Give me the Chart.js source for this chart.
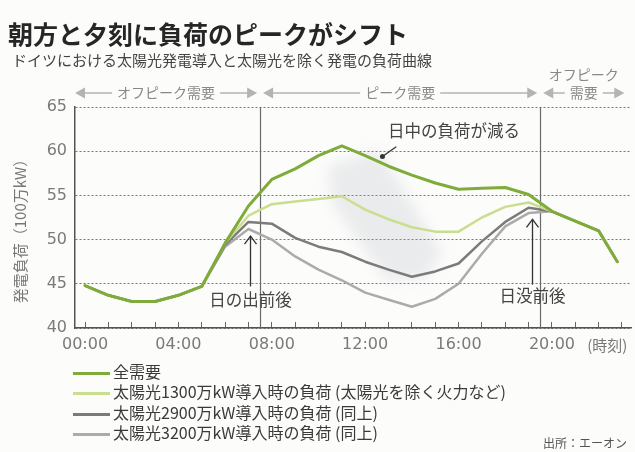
<!DOCTYPE html>
<html lang="ja">
<head>
<meta charset="utf-8">
<title>朝方と夕刻に負荷のピークがシフト</title>
<script src="https://cdn.jsdelivr.net/npm/chart.js@4.4.1/dist/chart.umd.min.js"></script>
<style>
  html, body { margin: 0; padding: 0; background: #fcfcfb; }
  #page { position: relative; width: 635px; height: 452px; overflow: hidden; font-family: "Noto Sans CJK JP", sans-serif; }
  #box { position: absolute; left: 0; top: 0; width: 635px; height: 452px; }
  h1 { position: absolute; left: 8px; top: 18px; margin: 0; font-size: 25px; line-height: 30px; font-weight: bold; color: #262626; }
  .sub { position: absolute; left: 12px; top: 51px; font-size: 15px; line-height: 18px; color: #444; }
  .legend { position: absolute; left: 73px; top: 361px; font-size: 16px; color: #3a3a3a; }
  .legend div { height: 20.3px; line-height: 20px; white-space: nowrap; }
  .legend i { display: inline-block; width: 37px; height: 3px; vertical-align: middle; margin-right: 3px; }
  .src { position: absolute; right: 8px; top: 434px; font-size: 12px; color: #555; }
</style>
</head>
<body>
<div id="page">
  <div id="box"><canvas id="loadChart"></canvas></div>
  <h1>朝方と夕刻に負荷のピークがシフト</h1>
  <div class="sub">ドイツにおける太陽光発電導入と太陽光を除く発電の負荷曲線</div>
  <div class="legend" id="legend"></div>
  <div class="src">出所：エーオン</div>
</div>
<script>
'use strict';

// hours of the day (last point just before 23:00)
const hours = [0, 1, 2, 3, 4, 5, 6, 7, 8, 9, 10, 11, 12, 13, 14, 15, 16, 17, 18, 19, 20, 21, 22, 22.8];

// load, 100万kW
const totalDemand = [44.8, 43.7, 43.0, 43.0, 43.7, 44.7, 49.6, 53.8, 56.8, 58.0, 59.5, 60.6, 59.5, 58.3, 57.3, 56.4, 55.7, 55.8, 55.9, 55.1, 53.2, 52.1, 51.0, 47.5];
const solar1300   = [44.8, 43.7, 43.0, 43.0, 43.7, 44.7, 49.6, 52.7, 54.0, 54.3, 54.6, 54.9, 53.4, 52.3, 51.4, 50.9, 50.9, 52.5, 53.7, 54.2, 53.2, 52.1, 51.0, 47.5];
const solar2900   = [44.8, 43.7, 43.0, 43.0, 43.7, 44.7, 49.4, 52.0, 51.8, 50.2, 49.2, 48.6, 47.5, 46.6, 45.8, 46.4, 47.3, 49.8, 52.0, 53.6, 53.2, 52.1, 51.0, 47.5];
const solar3200   = [44.8, 43.7, 43.0, 43.0, 43.7, 44.7, 49.2, 51.2, 50.0, 48.1, 46.6, 45.4, 44.0, 43.2, 42.4, 43.3, 45.0, 48.4, 51.5, 53.0, 53.2, 52.1, 51.0, 47.5];

const seriesNames = [
  '全需要',
  '太陽光1300万kW導入時の負荷 (太陽光を除く火力など)',
  '太陽光2900万kW導入時の負荷 (同上)',
  '太陽光3200万kW導入時の負荷 (同上)'
];
const seriesColors = ['#7fab3a', '#c9de8e', '#7b7b7b', '#ababab'];

const hourTicks = [0, 1, 2, 3, 4, 5, 6, 7, 8, 9, 10, 11, 12, 13, 14, 15, 16, 17, 18, 19, 20, 21, 22, 23];
const labelHours = [0, 4, 8, 12, 16, 20];
const yTicks = [40, 45, 50, 55, 60, 65];

// off-peak / peak borders
const periodBounds = [7.5, 19.5];
const periodNames = ['オフピーク需要', 'ピーク需要', '需要'];

// soft shaded patch "日中の負荷が減る" (hour, load)
const shadeHours = [10.4, 12.6, 15.3, 14.6, 12.9, 10.6];
const shadeLoads = [58.3, 60.2, 48.5, 45.6, 45.4, 54.0];

// arrow notes: hour, arrow tip, arrow tail, label load
const sunNames = ['日の出前後', '日没前後'];
const sunHours = [7.05, 19.15];
const sunTips = [50.4, 52.3];
const sunTails = [44.7, 44.9];
const sunLabels = [43.2, 43.6];

const dayNote = '日中の負荷が減る';
const dayNoteAt = [15.8, 62.3];
const dayPointer = [13.33, 60.5, 12.74, 59.4];

const JP = '"Noto Sans CJK JP", sans-serif';

function pts(vals){ return vals.map((v, i) => ({ x: hours[i], y: v })); }

// legend (html)
(function(){
  const el = document.getElementById('legend');
  seriesNames.forEach((n, i) => {
    const row = document.createElement('div');
    row.innerHTML = `<i style="background:${seriesColors[i]}"></i>${n}`;
    el.appendChild(row);
  });
})();

const decor = {
  id: 'decor',
  beforeDatasetsDraw(chart){
    const { ctx, chartArea: a, scales: { x, y } } = chart;
    ctx.save();
    ctx.filter = 'blur(7px)';
    ctx.fillStyle = 'rgba(165,170,182,0.2)';
    ctx.beginPath();
    shadeHours.forEach((h, i) => {
      const px = x.getPixelForValue(h), py = y.getPixelForValue(shadeLoads[i]);
      if(i) ctx.lineTo(px, py); else ctx.moveTo(px, py);
    });
    ctx.closePath();
    ctx.fill();
    ctx.filter = 'none';

    ctx.strokeStyle = '#6a6a6a';
    ctx.lineWidth = 1.2;
    periodBounds.forEach(h => {
      const px = Math.round(x.getPixelForValue(h)) + 0.5;
      ctx.beginPath(); ctx.moveTo(px, a.top); ctx.lineTo(px, a.bottom); ctx.stroke();
    });
    ctx.restore();
  },
  afterDatasetsDraw(chart){
    const { ctx, scales: { x, y } } = chart;
    ctx.save();
    ctx.strokeStyle = '#333';
    ctx.fillStyle = '#444';
    ctx.lineWidth = 1.3;
    ctx.font = '16.5px ' + JP;
    ctx.textAlign = 'center';
    ctx.textBaseline = 'middle';
    sunNames.forEach((n, i) => {
      const px = Math.round(x.getPixelForValue(sunHours[i])) + 0.5;
      const ty = y.getPixelForValue(sunTips[i]), by = y.getPixelForValue(sunTails[i]);
      ctx.beginPath(); ctx.moveTo(px, by); ctx.lineTo(px, ty); ctx.stroke();
      ctx.beginPath(); ctx.moveTo(px - 6, ty + 8); ctx.lineTo(px, ty); ctx.lineTo(px + 6, ty + 8); ctx.stroke();
      ctx.fillText(n, px, y.getPixelForValue(sunLabels[i]));
    });
    ctx.fillText(dayNote, x.getPixelForValue(dayNoteAt[0]), y.getPixelForValue(dayNoteAt[1]));
    const p1 = [x.getPixelForValue(dayPointer[0]), y.getPixelForValue(dayPointer[1])];
    const p2 = [x.getPixelForValue(dayPointer[2]), y.getPixelForValue(dayPointer[3])];
    ctx.beginPath(); ctx.moveTo(p1[0], p1[1]); ctx.lineTo(p2[0], p2[1]); ctx.stroke();
    ctx.beginPath(); ctx.arc(p2[0], p2[1], 2.5, 0, Math.PI * 2); ctx.fillStyle = '#333'; ctx.fill();
    ctx.restore();
  },
  afterDraw(chart){
    const { ctx, chartArea: a, scales: { x } } = chart;
    ctx.save();
    // period band above the plot
    const bandY = a.top - 14;
    const edges = [a.left, x.getPixelForValue(periodBounds[0]), x.getPixelForValue(periodBounds[1]), a.right - 4];
    ctx.font = '14px ' + JP;
    ctx.textAlign = 'center';
    ctx.textBaseline = 'middle';
    ctx.strokeStyle = '#b4b4b4';
    ctx.fillStyle = '#b4b4b4';
    ctx.lineWidth = 1.5;
    const head = (tip, dir) => {
      ctx.beginPath();
      ctx.moveTo(tip, bandY);
      ctx.lineTo(tip + dir * 10, bandY - 5.5);
      ctx.lineTo(tip + dir * 10, bandY + 5.5);
      ctx.closePath();
      ctx.fill();
    };
    periodNames.forEach((n, i) => {
      const l = edges[i] + (i ? 3 : 0), r = edges[i + 1] - 3;
      const c = (l + r) / 2, w = ctx.measureText(n).width;
      head(l, 1); head(r, -1);
      ctx.beginPath();
      ctx.moveTo(l + 9, bandY); ctx.lineTo(c - w / 2 - 5, bandY);
      ctx.moveTo(c + w / 2 + 5, bandY); ctx.lineTo(r - 9, bandY);
      ctx.stroke();
      ctx.fillStyle = '#888';
      ctx.fillText(n, c, bandY);
      if(i === 2) ctx.fillText('オフピーク', c, bandY - 18);
      ctx.fillStyle = '#b4b4b4';
    });

    // axis titles
    ctx.fillStyle = '#777';
    ctx.font = '15px ' + JP;
    ctx.fillText('(時刻)', a.right - 24, a.bottom + 17);
    ctx.translate(20, (a.top + a.bottom) / 2 + 10);
    ctx.rotate(-Math.PI / 2);
    ctx.fillText('発電負荷（100万kW）', 0, 0);
    ctx.restore();
  }
};

Chart.defaults.font.family = '"DejaVu Sans", sans-serif';

new Chart(document.getElementById('loadChart'), {
  type: 'line',
  data: {
    datasets: [
      { label: seriesNames[0], data: pts(totalDemand), borderColor: seriesColors[0], borderWidth: 3 },
      { label: seriesNames[1], data: pts(solar1300), borderColor: seriesColors[1], borderWidth: 2.5 },
      { label: seriesNames[2], data: pts(solar2900), borderColor: seriesColors[2], borderWidth: 2.5 },
      { label: seriesNames[3], data: pts(solar3200), borderColor: seriesColors[3], borderWidth: 2.5 }
    ]
  },
  options: {
    responsive: true,
    maintainAspectRatio: false,
    animation: false,
    layout: { padding: { left: 0, top: 107, right: 2, bottom: 84 } },
    plugins: { legend: { display: false }, tooltip: { enabled: false } },
    elements: { point: { radius: 0 }, line: { tension: 0, borderJoinStyle: 'round', borderCapStyle: 'round' } },
    scales: {
      x: {
        type: 'linear', min: -0.43, max: 23.4,
        afterBuildTicks: s => { s.ticks = hourTicks.map(v => ({ value: v })); },
        afterFit: s => { s.height = 40; },
        grid: { drawOnChartArea: false, drawTicks: true, tickLength: -6, tickColor: '#666', tickWidth: 1 },
        border: { color: '#555', width: 1.5 },
        ticks: {
          padding: 13, autoSkip: false, maxRotation: 0, color: '#7a7a7a', font: { size: 16 },
          callback: v => labelHours.includes(v) ? String(v).padStart(2, '0') + ':00' : ''
        }
      },
      y: {
        min: 40, max: 65,
        afterBuildTicks: s => { s.ticks = yTicks.map(v => ({ value: v })); },
        afterFit: s => { s.width = 75; },
        grid: { color: '#777', lineWidth: 1, drawTicks: false },
        border: { color: '#555', width: 1.5, dash: [2, 2] },
        ticks: { padding: 8, color: '#7a7a7a', font: { size: 16 } }
      }
    }
  },
  plugins: [decor]
});
</script>
</body>
</html>
